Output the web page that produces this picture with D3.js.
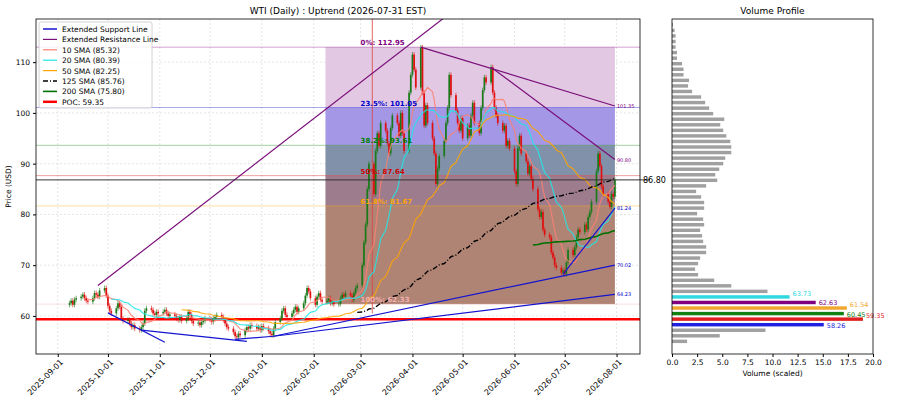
<!DOCTYPE html>
<html>
<head>
<meta charset="utf-8">
<script src="https://cdn.jsdelivr.net/npm/d3@7"></script>
<style>
body { margin: 0; background: #fff; }
text { font-family: "DejaVu Sans", sans-serif; }
</style>
</head>
<body>
<div id="chart"></div>
<script>
// daily closes, one row per week (Mon..Fri), from 2025-09-08
var weeklyCloses = [
  [62.5, 63.0, 62.2, 63.2, 63.5], [63.8, 64.2, 63.5, 63.0, 62.8], [63.5, 64.5, 64.2, 63.8, 65.0],
  [65.5, 64.0, 62.0, 61.0, 60.5], [61.5, 62.5, 61.8, 59.5, 59.0], [59.2, 58.5, 57.8, 58.2, 57.5],
  [57.2, 57.8, 58.5, 61.0, 61.5], [61.2, 60.5, 60.2, 60.8, 60.5], [60.8, 61.2, 60.5, 60.0, 60.3],
  [60.0, 59.5, 59.2, 59.8, 59.0], [59.5, 60.8, 60.2, 59.0, 58.5], [58.7, 58.2, 58.8, 59.0, 59.5],
  [59.3, 58.8, 59.5, 59.8, 60.2], [59.8, 59.2, 58.5, 57.8, 57.5], [56.8, 56.0, 55.8, 56.5, 56.2],
  [57.2, 57.8, 57.5, 58.2, 58.0], [57.5, 57.8, 57.2, 58.0, 57.6], [57.0, 56.5, 56.2, 57.5, 58.8],
  [59.5, 61.0, 61.5, 60.2, 59.8], [60.5, 61.2, 61.8, 60.8, 61.5], [62.5, 64.0, 65.5, 64.8, 63.5],
  [62.2, 63.8, 64.5, 63.2, 62.8], [63.0, 63.5, 62.5, 62.8, 62.3], [62.4, 63.5, 64.2, 63.8, 64.5],
  [64.0, 63.2, 64.5, 65.5, 66.0], [70.0, 74.5, 78.0, 85.0, 90.0], [84.0, 92.5, 96.0, 93.5, 98.0],
  [96.5, 94.0, 92.0, 97.0, 99.5], [98.0, 95.5, 100.0, 96.0, 92.5], [104.0, 107.5, 111.5, 108.5, 105.0],
  [112.9, 104.0, 97.5, 101.5, 98.0], [95.0, 92.0, 86.0, 89.0, 91.5], [94.5, 98.0, 101.0, 107.5, 103.5],
  [100.5, 98.0, 96.5, 99.0, 95.0], [97.5, 95.5, 99.5, 102.0, 98.0], [96.0, 101.0, 104.5, 107.0, 106.0],
  [109.0, 104.0, 101.0, 99.5, 98.0], [96.5, 97.5, 93.5, 94.5, 93.0], [88.5, 86.0, 93.0, 95.5, 92.0],
  [90.5, 88.0, 89.5, 87.0, 85.0], [81.0, 79.5, 80.5, 77.0, 76.0], [75.5, 72.5, 71.5, 70.0, 69.5],
  [68.5, 69.0, 68.2, 70.5, 73.0], [72.0, 73.5, 75.5, 77.0, 76.5], [78.0, 77.0, 79.5, 80.5, 82.5],
  [88.5, 92.0, 89.5, 85.5, 84.0], [82.5, 81.5, 84.0, 83.5, 86.8]
];
var startDate = new Date(2025, 8, 8);

var fibLevels = [
  { label: "0%: 112.95", value: 112.95, color: "#800080", fill: "#e2c8e2" },
  { label: "23.5%: 101.05", value: 101.05, color: "#0000cc", fill: "#a397e6" },
  { label: "38.2%: 93.61", value: 93.61, color: "#008000", fill: "#8291aa" },
  { label: "50%: 87.64", value: 87.64, color: "#d00000", fill: "#9d7d8d" },
  { label: "61.8%: 81.67", value: 81.67, color: "#ffa500", fill: "#b08474" },
  { label: "100%: 62.33", value: 62.33, color: "#f4b0b0", fill: null }
];
var fibStart = new Date(2026, 1, 8), fibEnd = new Date(2026, 6, 31);

var resistanceLines = [
  [[new Date(2025, 8, 25), 66.0], [new Date(2026, 3, 28), 120.8]],
  [[new Date(2026, 3, 6), 112.95], [new Date(2026, 6, 31), 101.35]],
  [[new Date(2026, 4, 18), 109.0], [new Date(2026, 6, 31), 90.80]]
];
var supportLines = [
  [[new Date(2025, 9, 1), 60.6], [new Date(2025, 10, 4), 54.8]],
  [[new Date(2025, 9, 21), 57.2], [new Date(2025, 11, 23), 55.0]],
  [[new Date(2025, 11, 16), 55.4], [new Date(2026, 0, 8), 56.0]],
  [[new Date(2026, 0, 8), 56.0], [new Date(2026, 6, 31), 70.02]],
  [[new Date(2026, 0, 8), 56.0], [new Date(2026, 6, 31), 64.23]],
  [[new Date(2026, 5, 30), 68.2], [new Date(2026, 6, 31), 81.24]]
];
var lineEndLabels = [
  { value: 101.35, color: "#800080" }, { value: 90.80, color: "#800080" },
  { value: 81.24, color: "#0000cc" }, { value: 70.02, color: "#0000cc" }, { value: 64.23, color: "#0000cc" }
];
var lastClose = 86.80, poc = 59.35;
var eventDate = new Date(2026, 2, 8);

var smaDefs = [
  { n: 10, label: "10 SMA (85.32)", color: "#fa8072", width: 1.2, dash: null },
  { n: 20, label: "20 SMA (80.39)", color: "#20e8e8", width: 1.2, dash: null },
  { n: 50, label: "50 SMA (82.25)", color: "#ffa500", width: 1.2, dash: null },
  { n: 125, label: "125 SMA (85.76)", color: "#000000", width: 1.4, dash: "5,2,1,2" },
  { n: 200, label: "200 SMA (75.80)", color: "#007000", width: 1.6, dash: null }
];

// volume profile, top bin to bottom bin
var volumes = [0.1, 0.26, 0.36, 0.36, 0.36, 0.5, 0.5, 1.0, 1.15, 1.15, 1.7, 1.6, 2.0, 2.9, 3.3, 3.7, 4.1,
  5.2, 4.8, 5.1, 5.4, 5.8, 5.9, 5.9, 5.3, 5.1, 4.7, 4.3, 4.5, 3.4, 2.4, 2.9, 3.2, 3.2, 2.5, 3.1, 3.2,
  2.8, 3.0, 3.1, 3.4, 3.4, 2.8, 2.6, 2.3, 2.6, 4.2, 5.9, 9.5, 11.7, 14.3, 17.4, 17.1, 19.0, 15.1, 9.3, 4.75, 1.5];
var volTopPrice = 117.35, volStep = 1.094;
var volHighlights = { 49: ["63.73", "#30d8e0"], 50: ["62.63", "#800080"], 51: ["61.54", "#f0a830"],
  52: ["60.45", "#108010"], 53: ["59.35", "#e02020"], 54: ["58.26", "#2020e0"] };

// ---- build series
var days = d3.timeDay.range(startDate, new Date(2026, 7, 1)).filter(function (d) {
  return d.getDay() > 0 && d.getDay() < 6;
});
var closes = [].concat.apply([], weeklyCloses);
var candles = closes.map(function (c, i) {
  var o = i ? closes[i - 1] : c - 0.3;
  return { date: days[i], open: o, close: c, high: Math.max(o, c) + 0.5, low: Math.min(o, c) - 0.5 };
});

var W = 900, H = 400;
var m = { left: 36, right: 640, top: 19, bottom: 354 };
var v = { left: 672, right: 873 };

var svg = d3.select("#chart").append("svg").attr("width", W).attr("height", H);
var x = d3.scaleTime().domain([new Date(2025, 7, 19), new Date(2026, 7, 15)]).range([m.left, m.right]);
var y = d3.scaleLinear().domain([52.5, 118.5]).range([m.bottom, m.top]);
var xv = d3.scaleLinear().domain([0, 20]).range([v.left, v.right]);

svg.append("defs").append("clipPath").attr("id", "clip").append("rect")
  .attr("x", m.left).attr("y", m.top).attr("width", m.right - m.left).attr("height", m.bottom - m.top);

// grid
var xTicks = d3.timeMonth.range(new Date(2025, 8, 1), new Date(2026, 7, 2));
var yTicks = [60, 70, 80, 90, 100, 110];
var grid = svg.append("g").attr("stroke", "#d8d8d8").attr("stroke-dasharray", "2,2").attr("stroke-width", 0.7);
xTicks.forEach(function (t) { grid.append("line").attr("x1", x(t)).attr("x2", x(t)).attr("y1", m.top).attr("y2", m.bottom); });
yTicks.forEach(function (t) { grid.append("line").attr("x1", m.left).attr("x2", m.right).attr("y1", y(t)).attr("y2", y(t)); });

var plot = svg.append("g").attr("clip-path", "url(#clip)");

// fib zones
fibLevels.forEach(function (f, i) {
  if (f.fill) {
    plot.append("rect").attr("x", x(fibStart)).attr("width", x(fibEnd) - x(fibStart))
      .attr("y", y(f.value)).attr("height", y(fibLevels[i + 1].value) - y(f.value))
      .attr("fill", f.fill);
  }
  plot.append("line").attr("x1", m.left).attr("x2", m.right).attr("y1", y(f.value)).attr("y2", y(f.value))
    .attr("stroke", f.color).attr("stroke-width", 0.8).attr("opacity", 0.45);
});

// red event line
plot.append("line").attr("x1", x(eventDate)).attr("x2", x(eventDate)).attr("y1", m.top).attr("y2", y(60.5))
  .attr("stroke", "#e04040").attr("stroke-width", 0.8);

// POC
plot.append("line").attr("x1", m.left).attr("x2", m.right).attr("y1", y(poc)).attr("y2", y(poc))
  .attr("stroke", "#ff0000").attr("stroke-width", 2.5);

// candles
var bw = 1.7;
var cg = plot.append("g");
candles.forEach(function (d) {
  var col = d.close >= d.open ? "#1a7a1a" : "#e01010";
  cg.append("line").attr("x1", x(d.date)).attr("x2", x(d.date)).attr("y1", y(d.high)).attr("y2", y(d.low))
    .attr("stroke", col).attr("stroke-width", 0.6);
  cg.append("rect").attr("x", x(d.date) - bw / 2).attr("width", bw)
    .attr("y", y(Math.max(d.open, d.close))).attr("height", Math.max(0.6, Math.abs(y(d.open) - y(d.close))))
    .attr("fill", col);
});

// SMAs
smaDefs.forEach(function (s) {
  var pts = [];
  for (var i = s.n - 1; i < closes.length; i++) {
    pts.push([days[i], d3.mean(closes.slice(i - s.n + 1, i + 1))]);
  }
  plot.append("path").datum(pts)
    .attr("d", d3.line().x(function (p) { return x(p[0]); }).y(function (p) { return y(p[1]); }))
    .attr("fill", "none").attr("stroke", s.color).attr("stroke-width", s.width)
    .attr("stroke-dasharray", s.dash).attr("opacity", s.n < 125 ? 0.85 : 1);
});

// trend lines
function drawLines(list, color) {
  list.forEach(function (l) {
    plot.append("line").attr("x1", x(l[0][0])).attr("y1", y(l[0][1]))
      .attr("x2", x(l[1][0])).attr("y2", y(l[1][1]))
      .attr("stroke", color).attr("stroke-width", 1.2);
  });
}
drawLines(resistanceLines, "#7a107a");
drawLines(supportLines, "#1414d0");

// last close line
svg.append("line").attr("x1", m.left).attr("x2", 650).attr("y1", y(lastClose)).attr("y2", y(lastClose))
  .attr("stroke", "#333").attr("stroke-width", 1);
svg.append("text").attr("x", 643).attr("y", y(lastClose) + 3).attr("font-size", 8).text(lastClose.toFixed(2));

// labels
fibLevels.forEach(function (f) {
  svg.append("text").attr("x", x(new Date(2026, 2, 1))).attr("y", y(f.value) - 2)
    .attr("font-size", 7).attr("font-weight", "bold").attr("fill", f.color).text(f.label);
});
lineEndLabels.forEach(function (l) {
  svg.append("text").attr("x", x(fibEnd) + 2).attr("y", y(l.value) + 2)
    .attr("font-size", 5).attr("fill", l.color).text(l.value.toFixed(2));
});

// axes frame
svg.append("rect").attr("x", m.left).attr("y", m.top).attr("width", m.right - m.left).attr("height", m.bottom - m.top)
  .attr("fill", "none").attr("stroke", "#000").attr("stroke-width", 0.8);
var xa = svg.append("g").attr("transform", "translate(0," + m.bottom + ")")
  .call(d3.axisBottom(x).tickValues(xTicks).tickFormat(d3.timeFormat("%Y-%m-%d")).tickSize(3));
xa.select(".domain").remove();
xa.selectAll("text").attr("font-size", 8).attr("text-anchor", "end")
  .attr("transform", "rotate(-45)").attr("dx", "-0.3em").attr("dy", "0.5em");
var ya = svg.append("g").attr("transform", "translate(" + m.left + ",0)")
  .call(d3.axisLeft(y).tickValues(yTicks).tickSize(3));
ya.select(".domain").remove();
ya.selectAll("text").attr("font-size", 7.5);
svg.append("text").attr("transform", "translate(11," + ((m.top + m.bottom) / 2) + ") rotate(-90)")
  .attr("text-anchor", "middle").attr("font-size", 7.5).text("Price (USD)");
svg.append("text").attr("x", (m.left + m.right) / 2).attr("y", 14).attr("text-anchor", "middle")
  .attr("font-size", 9).text("WTI (Daily) : Uptrend (2026-07-31 EST)");

// legend
var lg = svg.append("g").attr("transform", "translate(39,22)");
lg.append("rect").attr("width", 113).attr("height", 86).attr("fill", "#fff").attr("opacity", 0.85)
  .attr("stroke", "#ccc").attr("rx", 2);
var legendItems = [
  { label: "Extended Support Line", color: "#1414d0", width: 1.5, dash: null },
  { label: "Extended Resistance Line", color: "#7a107a", width: 1.2, dash: null }
].concat(smaDefs).concat([{ label: "POC: 59.35", color: "#ff0000", width: 2.5, dash: null }]);
legendItems.forEach(function (it, i) {
  var ly = 7 + i * 10.4;
  lg.append("line").attr("x1", 4).attr("x2", 18).attr("y1", ly).attr("y2", ly)
    .attr("stroke", it.color).attr("stroke-width", it.width).attr("stroke-dasharray", it.dash);
  lg.append("text").attr("x", 23).attr("y", ly + 3).attr("font-size", 7.5).text(it.label);
});

// volume profile
var vg = svg.append("g");
var bh = Math.abs(y(0) - y(volStep)) * 0.62;
volumes.forEach(function (val, i) {
  var p = volTopPrice - i * volStep;
  var hl = volHighlights[i];
  vg.append("rect").attr("x", xv(0)).attr("width", xv(val) - xv(0))
    .attr("y", y(p) - bh / 2).attr("height", bh).attr("fill", hl ? hl[1] : "#a0a0a0");
  if (hl) {
    vg.append("text").attr("x", xv(val) + 3).attr("y", y(p) + (i % 2 ? -1 : 3))
      .attr("font-size", 6.5).attr("fill", hl[1]).text(hl[0]);
  }
});
svg.append("rect").attr("x", v.left).attr("y", m.top).attr("width", v.right - v.left).attr("height", m.bottom - m.top)
  .attr("fill", "none").attr("stroke", "#000").attr("stroke-width", 0.8);
var va = svg.append("g").attr("transform", "translate(0," + m.bottom + ")")
  .call(d3.axisBottom(xv).tickValues(d3.range(0, 20.1, 2.5)).tickFormat(d3.format(".1f")).tickSize(3));
va.select(".domain").remove();
va.selectAll("text").attr("font-size", 7.5);
svg.append("text").attr("x", (v.left + v.right) / 2).attr("y", 376).attr("text-anchor", "middle")
  .attr("font-size", 7.5).text("Volume (scaled)");
svg.append("text").attr("x", (v.left + v.right) / 2).attr("y", 14).attr("text-anchor", "middle")
  .attr("font-size", 9).text("Volume Profile");
</script>
</body>
</html>
